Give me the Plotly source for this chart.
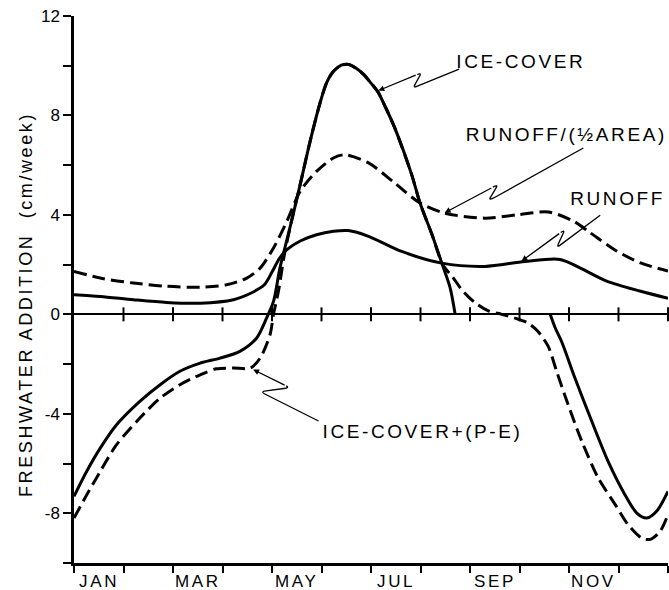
import plotly.graph_objects as go

# ---------------- data (x in months from 1 Jan, y in cm/week) ----------------
ice_m = [0, 0.26, 0.53, 0.86, 1.33, 1.74, 2.14, 2.55, 2.95, 3.35, 3.69, 3.89, 4.03, 4.16,
         4.36, 4.57, 4.77, 4.97, 5.1, 5.23, 5.4, 5.55, 5.7, 5.85, 6.0, 6.14, 6.3, 6.48, 6.82,
         6.99, 7.23, 7.43, 7.6, 7.7, None,
         9.62, 9.72, 9.85, 10.12, 10.46, 10.79, 11.13, 11.37, 11.57, 11.77, 12.0]
ice_v = [-7.32, -6.3, -5.38, -4.44, -3.5, -2.83, -2.29, -1.96, -1.76, -1.49, -0.95, -0.15, 0.52, 1.86,
         3.47, 5.23, 6.96, 8.5, 9.3, 9.75, 10.02, 10.05, 9.9, 9.65, 9.3, 8.95, 8.3, 7.5, 5.63,
         4.48, 3.22, 2.06, 1.06, 0, None,
         0, -0.54, -1.09, -2.56, -4.3, -5.91, -7.25, -7.99, -8.19, -7.92, -7.12]

icepe_m = [0, 0.26, 0.53, 0.86, 1.33, 1.74, 2.14, 2.55, 2.88, 3.22, 3.56, 3.76, 3.96, 4.03, 4.13,
           4.25, 4.4, 4.57, 4.77, 4.97, 5.1, 5.23, 5.4, 5.55, 5.7, 5.85, 6.0, 6.14, 6.3, 6.48,
           6.82, 6.99, 7.23, 7.45, 7.65, 7.85, 8.1, 8.36, 8.64, 8.91, 9.17, 9.37, 9.58, 9.75,
           9.98, 10.26, 10.59, 10.93, 11.19, 11.47, 11.64, 11.84, 12.0]
icepe_v = [-8.19, -7.25, -6.32, -5.24, -4.17, -3.37, -2.83, -2.43, -2.19, -2.16, -2.16, -1.76, -0.82, 0, 0.93,
           2.4, 3.8, 5.23, 6.96, 8.5, 9.3, 9.75, 10.02, 10.05, 9.9, 9.65, 9.3, 8.95, 8.3, 7.5,
           5.63, 4.48, 3.22, 2.0, 1.5, 0.95, 0.47, 0.15, 0.0, -0.15, -0.35, -0.68, -1.29, -2.29,
           -3.62, -5.11, -6.58, -7.64, -8.45, -9.0, -9.05, -8.73, -8.05]

half_m = [0, 0.53, 1.2, 1.87, 2.55, 3.08, 3.49, 3.76, 4.03, 4.3, 4.57, 4.9, 5.24, 5.47, 5.95,
          6.48, 6.99, 7.49, 8.3, 8.98, 9.58, 10.09, 10.43, 10.96, 11.43, 12.0]
half_v = [1.73, 1.46, 1.26, 1.13, 1.09, 1.19, 1.46, 1.86, 2.67, 3.74, 4.95, 5.75, 6.29, 6.42, 6.09,
          5.28, 4.48, 4.07, 3.87, 4.01, 4.12, 3.75, 3.28, 2.55, 2.08, 1.74]

run_m = [0, 0.53, 1.2, 1.87, 2.55, 3.22, 3.62, 3.85, 4.0, 4.15, 4.3, 4.57, 4.9, 5.24, 5.54, 5.95,
         6.62, 7.43, 8.3, 9.11, 9.82, 10.22, 10.76, 11.43, 12.0]
run_v = [0.79, 0.72, 0.59, 0.48, 0.45, 0.59, 0.9, 1.2, 1.7, 2.25, 2.6, 2.95, 3.2, 3.34, 3.37, 3.14,
         2.53, 2.06, 1.93, 2.13, 2.21, 1.87, 1.34, 0.94, 0.65]

month_labels = ["JAN", "MAR", "MAY", "JUL", "SEP", "NOV"]
month_index = [0, 2, 4, 6, 8, 10]
month_bounds = list(range(0, 13))

y_ticks = list(range(-10, 13, 2))
y_labels = {12: "12", 8: "8", 4: "4", 0: "0", -4: "-4", -8: "-8"}

# labels: text, centre (month, value), leader path (months, values), arrow tip
labels = [
    dict(text="ICE-COVER", x=9.03, y=10.18,
         path=[(7.78, 9.86), (6.85, 9.11), (7.02, 9.72)], tip=(6.15, 9.0)),
    dict(text="RUNOFF/(½AREA)", x=9.95, y=7.25,
         path=[(10.29, 6.69), (8.37, 4.56), (8.57, 5.23)], tip=(7.49, 4.09)),
    dict(text="RUNOFF", x=10.98, y=4.66,
         path=[(10.63, 3.99), (9.75, 2.68), (9.92, 3.42)], tip=(9.04, 2.14)),
    dict(text="ICE-COVER+(P-E)", x=7.05, y=-4.73,
         path=[(4.94, -4.29), (3.76, -3.11), (4.36, -2.95)], tip=(3.62, -2.22)),
]

INK = "#000000"
FONT = "Liberation Sans, Arial, Helvetica, sans-serif"


def rounded_leader(pts, tip, f=0.4):
    """Polyline through pts then toward tip, with rounded interior corners.
    Returns svg path and the point where the final (arrow) segment begins."""
    seq = pts + [tip]
    d = f"M {seq[0][0]},{seq[0][1]}"
    end = seq[0]
    for i in range(1, len(seq) - 1):
        p0, p1, p2 = seq[i - 1], seq[i], seq[i + 1]
        a = (p1[0] + (p0[0] - p1[0]) * f * 0.5, p1[1] + (p0[1] - p1[1]) * f * 0.5) if i > 1 else \
            (p1[0] + (p0[0] - p1[0]) * 0.08, p1[1] + (p0[1] - p1[1]) * 0.08)
        b = (p1[0] + (p2[0] - p1[0]) * f * 0.5, p1[1] + (p2[1] - p1[1]) * f * 0.5) if i < len(seq) - 2 else \
            (p1[0] + (p2[0] - p1[0]) * 0.1, p1[1] + (p2[1] - p1[1]) * 0.1)
        d += f" L {a[0]},{a[1]} Q {p1[0]},{p1[1]} {b[0]},{b[1]}"
        end = b
    return d, end


fig = go.Figure()
fig.add_trace(go.Scatter(x=ice_m, y=ice_v, mode="lines", connectgaps=False,
                         line=dict(color=INK, width=3, shape="spline", smoothing=0.8)))
fig.add_trace(go.Scatter(x=icepe_m, y=icepe_v, mode="lines",
                         line=dict(color=INK, width=3, dash="13px,6px", shape="spline", smoothing=0.8)))
fig.add_trace(go.Scatter(x=half_m, y=half_v, mode="lines",
                         line=dict(color=INK, width=3, dash="13px,6px", shape="spline", smoothing=0.8)))
fig.add_trace(go.Scatter(x=run_m, y=run_v, mode="lines",
                         line=dict(color=INK, width=3, shape="spline", smoothing=0.8)))
# small tick crosses on the zero line
fig.add_trace(go.Scatter(x=month_bounds[1:], y=[0] * len(month_bounds[1:]), mode="markers",
                         cliponaxis=False,
                         marker=dict(symbol="line-ns", size=10, line=dict(color=INK, width=2))))

annotations = []
shapes = []
for lab in labels:
    annotations.append(dict(text=lab["text"], x=lab["x"], y=lab["y"], xref="x", yref="y",
                            showarrow=False, xanchor="center", yanchor="middle",
                            font=dict(family=FONT, size=19, color=INK)))
    d, start = rounded_leader(lab["path"], lab["tip"])
    shapes.append(dict(type="path", xref="x", yref="y", path=d,
                       line=dict(color=INK, width=1.3)))
    annotations.append(dict(text="", x=lab["tip"][0], y=lab["tip"][1], xref="x", yref="y",
                            ax=start[0], ay=start[1], axref="x", ayref="y",
                            showarrow=True, arrowhead=2, arrowsize=0.9, arrowwidth=1.3,
                            arrowcolor=INK, standoff=0))

for lab, idx in zip(month_labels, month_index):
    annotations.append(dict(text=lab, x=idx + 0.5, y=0, xref="x", yref="paper",
                            yshift=-18, showarrow=False, xanchor="center", yanchor="middle",
                            font=dict(family=FONT, size=17, color=INK)))

annotations.append(dict(text="FRESHWATER ADDITION\u00a0\u00a0(cm/week)", x=0, y=0.4717,
                        xref="paper", yref="paper", xshift=-48, textangle=-90,
                        showarrow=False, xanchor="center", yanchor="middle",
                        font=dict(family=FONT, size=18, color=INK)))

fig.update_layout(
    width=669, height=590,
    margin=dict(l=74, r=1, t=16, b=27, pad=0),
    paper_bgcolor="white", plot_bgcolor="white",
    showlegend=False,
    annotations=annotations, shapes=shapes,
    xaxis=dict(range=[0, 12], showgrid=False, zeroline=False, showline=True,
               linecolor=INK, linewidth=2.5, ticks="outside", ticklen=7, tickwidth=2,
               tickcolor=INK, tickvals=month_bounds, showticklabels=False, fixedrange=True),
    yaxis=dict(range=[-10, 12], showgrid=False, zeroline=True, zerolinecolor=INK,
               zerolinewidth=2, showline=True, linecolor=INK, linewidth=2.5,
               ticks="outside", ticklen=8, tickwidth=2, tickcolor=INK,
               tickvals=y_ticks, ticktext=[y_labels.get(t, "") for t in y_ticks],
               tickfont=dict(family=FONT, size=17, color=INK), fixedrange=True),
)

post = """
document.querySelectorAll('g.annotation text.annotation-text').forEach(function(t){
  t.style.letterSpacing = '2.6px';
});
"""
fig.write_html("out.html", post_script=post, config={"displayModeBar": False})
